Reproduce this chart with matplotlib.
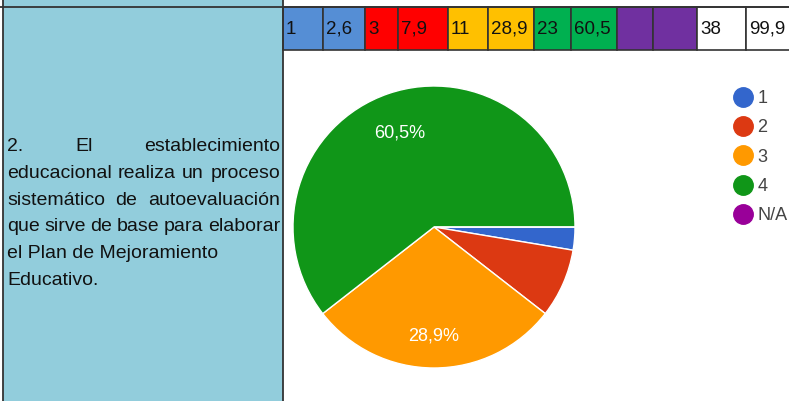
import matplotlib
matplotlib.use("Agg")
import matplotlib.pyplot as plt
from matplotlib.patches import Rectangle
from matplotlib.lines import Line2D

# answers to question 2
labels = ["1", "2", "3", "4", "N/A"]
counts = [1, 3, 11, 23, 0]
pie_colors = ["#3366CC", "#DC3912", "#FF9900", "#109618", "#990099"]
cell_colors = ["#558ED5", "#FF0000", "#FFC000", "#00B050", "#7030A0"]
question = ["2. El establecimiento",
            "educacional realiza un proceso",
            "sistemático de autoevaluación",
            "que sirve de base para elaborar",
            "el Plan de Mejoramiento",
            "Educativo."]
justified = [True, True, True, True, False, False]

total = sum(counts)
percents = [round(100 * c / total, 1) for c in counts]


def fmt(v):
    return f"{v:g}".replace(".", ",")


W, H = 789, 401
fig = plt.figure(figsize=(W / 100, H / 100), dpi=100)
plt.rcParams["font.family"] = ["Liberation Sans", "DejaVu Sans"]

# background axes in pixel units (y down)
bg = fig.add_axes([0, 0, 1, 1])
bg.set_xlim(0, W)
bg.set_ylim(H, 0)
bg.axis("off")

edge = "#333333"
bg.add_patch(Rectangle((3, 0), 280, H, facecolor="#92CDDC", edgecolor="none"))
bg.plot([0, W], [7, 7], color=edge, lw=1.3)
bg.plot([3, 3], [0, H], color=edge, lw=1.3)
bg.plot([283, 283], [0, H], color=edge, lw=1.3)

# summary row: count and percentage for each answer, then totals
cell_text, cell_fill = [], []
for c, p, col in zip(counts, percents, cell_colors):
    cell_text += [str(c) if c else "", fmt(p) if c else ""]
    cell_fill += [col, col]
cell_text += [str(total), fmt(round(sum(percents), 1))]
cell_fill += ["white", "white"]
bounds = [283, 323, 365, 398, 448, 488, 534, 571, 617, 653, 697, 746, 790]
for i, (txt, col) in enumerate(zip(cell_text, cell_fill)):
    x0, x1 = bounds[i], bounds[i + 1]
    bg.add_patch(Rectangle((x0, 7), x1 - x0, 43, facecolor=col,
                           edgecolor=edge, lw=1.2))
    bg.text(x0 + 3, 29, txt, fontsize=13.5, color="#111111",
            ha="left", va="center")

# question text, justified like the document cell
renderer = fig.canvas.get_renderer()
fs = 14
left, right = 7, 280
for k, (line, just) in enumerate(zip(question, justified)):
    y = 151 + 26.8 * k
    if not just:
        bg.text(left, y, line, fontsize=fs, color="#111111", va="baseline")
        continue
    words = line.split()
    widths = []
    for w in words:
        t = bg.text(0, 0, w, fontsize=fs)
        widths.append(t.get_window_extent(renderer).width)
        t.remove()
    gap = (right - left - sum(widths)) / (len(words) - 1)
    x = left
    for w, wd in zip(words, widths):
        bg.text(x, y, w, fontsize=fs, color="#111111", va="baseline")
        x += wd + gap

# pie chart
cx, cy, r = 434, 227, 141
ax = fig.add_axes([(cx - r) / W, 1 - (cy + r) / H, 2 * r / W, 2 * r / H])
wedges, texts, autotexts = ax.pie(
    counts, colors=pie_colors, startangle=0, counterclock=False,
    autopct=lambda p: fmt(round(p, 1)) + "%" if p > 10 else "",
    pctdistance=0.74, radius=1,
    wedgeprops=dict(edgecolor="white", linewidth=1),
    textprops=dict(color="white", fontsize=13))
for t in autotexts:
    x, y = t.get_position()
    t.set_position((x, y - 0.03))
ax.set_xlim(-1, 1)
ax.set_ylim(-1, 1)
ax.set_aspect("equal")

handles = [Line2D([], [], marker="o", ls="none", markersize=14,
                  markerfacecolor=c, markeredgecolor=c) for c in pie_colors]
fig.legend(handles, labels, loc="upper left",
           bbox_to_anchor=(725 / W, 1 - 83 / H), frameon=False,
           fontsize=13, labelcolor="#444444", handletextpad=0.2,
           labelspacing=0.68, handlelength=1.2, borderaxespad=0)

fig.savefig("out.png", dpi=100)
